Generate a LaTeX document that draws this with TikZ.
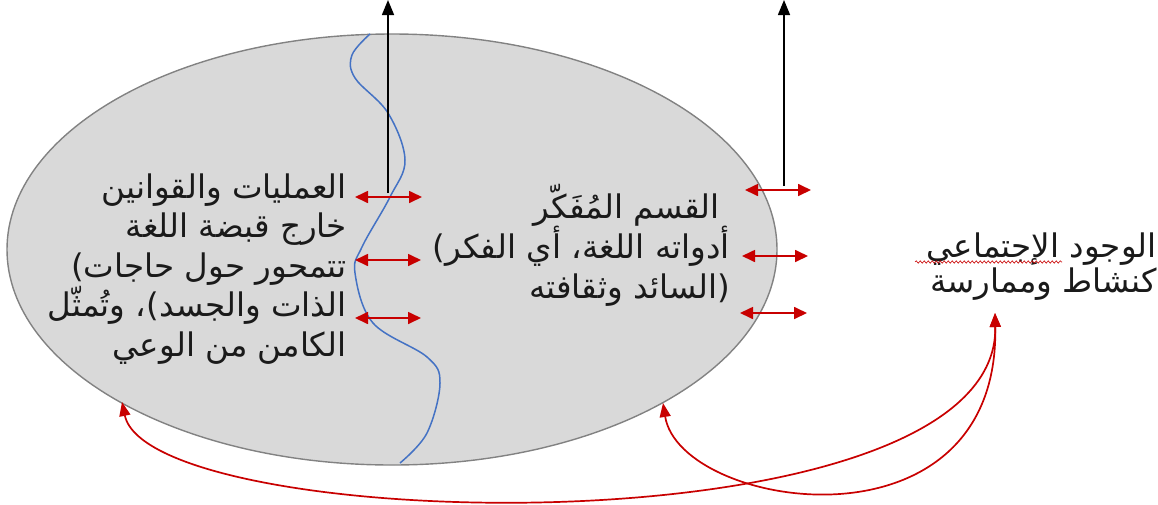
\documentclass[tikz,border=0pt]{standalone}
\usepackage{fontspec}
\newfontfamily\ar[Script=Arabic]{DejaVu Sans}
\TeXXeTstate=1
\usetikzlibrary{arrows.meta,decorations.pathmorphing,shapes.geometric}
\definecolor{ovalfill}{RGB}{217,217,217}
\definecolor{ovaledge}{RGB}{130,130,130}
\definecolor{arrowred}{RGB}{200,0,0}
\definecolor{waveblue}{RGB}{68,114,196}
\definecolor{inkgray}{RGB}{26,26,26}
\tikzset{
  redline/.style={draw=arrowred, line width=1.7pt},
  twoway/.style={redline, {Triangle[length=13pt,width=12pt]}-{Triangle[length=13pt,width=12pt]}},
  bentway/.style={redline, {Triangle[length=14pt,width=11pt]}-{Triangle[length=14pt,width=11pt]}},
  upline/.style={draw=black, line width=1.5pt, -{Triangle[length=15pt,width=12pt]}},
  artext/.style={font=\ar\fontsize{32.5}{38}\selectfont, inner sep=0pt, text=inkgray, anchor=base east}
}
\begin{document}
\begin{tikzpicture}[x=1pt,y=-1pt]
\useasboundingbox (0,0) rectangle (1158,504);

% the oval
\node[ellipse, draw=ovaledge, fill=ovalfill, line width=1.4pt,
      minimum width=770pt, minimum height=431pt, inner sep=0pt] (oval) at (392,249.5) {};

% wavy boundary line
\draw[waveblue, line width=1.5pt] plot[smooth, tension=0.6] coordinates {
  (370,34) (352,55) (355,78) (388,113) (405,160) (390,197) (362,247)
  (355,273) (373,323) (427,357) (440,383) (427,433) (400,463)};

% upward arrows
\coordinate (v1b) at (388,193);
\coordinate (v1t) at (388,0);
\coordinate (v2b) at (784,186);
\coordinate (v2t) at (784,0);
\draw[upline] (v1b) -- (v1t);
\draw[upline] (v2b) -- (v2t);

% double arrows, left group
\coordinate (la1) at (355,197); \coordinate (lb1) at (422,197);
\coordinate (la2) at (355,260); \coordinate (lb2) at (421,260);
\coordinate (la3) at (355,318); \coordinate (lb3) at (421,318);
\draw[twoway] (la1) -- (lb1);
\draw[twoway] (la2) -- (lb2);
\draw[twoway] (la3) -- (lb3);

% double arrows, right group
\coordinate (ra1) at (745,190); \coordinate (rb1) at (811,190);
\coordinate (ra2) at (742,256); \coordinate (rb2) at (808,256);
\coordinate (ra3) at (740,313); \coordinate (rb3) at (807,313);
\draw[twoway] (ra1) -- (rb1);
\draw[twoway] (ra2) -- (rb2);
\draw[twoway] (ra3) -- (rb3);

% left text block
\node[artext] (l1) at (347,198) {\beginR العمليات والقوانين\endR};
\node[artext] (l2) at (347,237.5) {\beginR خارج قبضة اللغة\endR};
\node[artext] (l3) at (347,277) {\beginR تتمحور حول حاجات)\endR};
\node[artext] (l4) at (347,316.5) {\beginR الذات والجسد)، وتُمثّل\endR};
\node[artext] (l5) at (347,356) {\beginR الكامن من الوعي\endR};

% middle text block
\node[artext] (m1) at (720,218) {\beginR القسم المُفَكّر\endR};
\node[artext] (m2) at (730,258) {\beginR أدواته اللغة، أي الفكر)\endR};
\node[artext] (m3) at (730,298) {\beginR (السائد وثقافته\endR};

% social existence label
\node[artext] (s1) at (1157,257) {\beginR الوجود الإجتماعي\endR};
\node[artext] (s2) at (1157,292) {\beginR كنشاط وممارسة\endR};
\draw[arrowred, line width=0.6pt, decorate,
      decoration={snake, amplitude=1.2pt, segment length=4pt}] (915,262) -- (1062,262);

% feedback curves
\coordinate (fb) at (995,313);
\coordinate (fl) at (122,402);
\coordinate (fr) at (663,403);
\draw[bentway] (fl) .. controls (150,535) and (1000,555) .. (fb);
\draw[bentway] (fr) .. controls (680,510) and (1000,560) .. (fb);
\end{tikzpicture}
\end{document}
